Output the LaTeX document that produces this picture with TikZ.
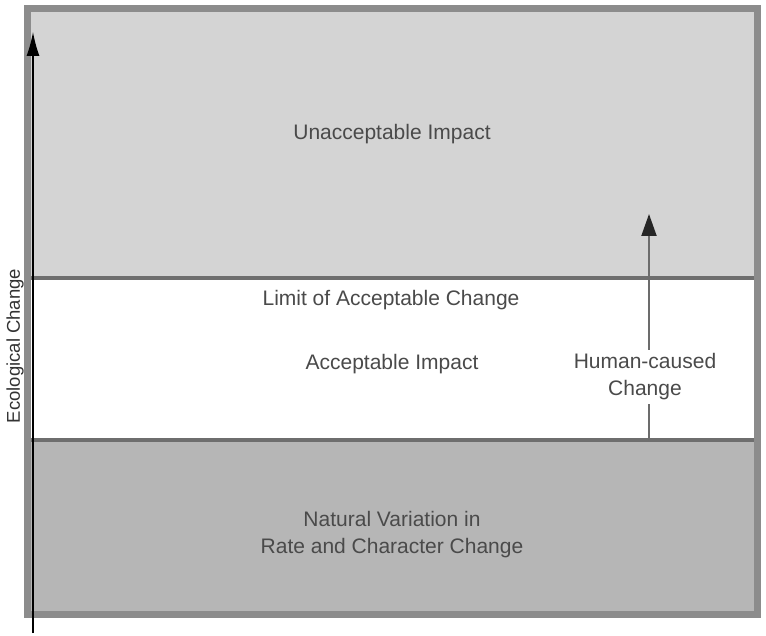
\documentclass[tikz,border=0pt]{standalone}
\usepackage{fontspec}
\setmainfont{Liberation Sans}
\usetikzlibrary{arrows.meta}
\definecolor{topband}{HTML}{D4D4D4}
\definecolor{lowband}{HTML}{B6B6B6}
\definecolor{framecol}{HTML}{8C8C8C}
\definecolor{linecol}{HTML}{6E6E6E}
\definecolor{txtcol}{HTML}{4A4A4A}
\tikzset{
  bandlabel/.style={text=txtcol, font=\fontsize{21}{27}\selectfont, align=center, inner sep=0pt},
  bandline/.style={draw=linecol, line width=4.5pt},
  axisarrow/.style={draw=black, line width=1.3pt, -{Latex[length=24pt,width=13pt]}},
  humanline/.style={draw=gray!85!black, line width=2pt},
}
\begin{document}
\begin{tikzpicture}[x=1pt,y=-1pt]
\useasboundingbox (0,0) rectangle (766,636);
% bands
\fill[topband] (27,9) rectangle (757,278);
\fill[white] (27,278) rectangle (757,440);
\fill[lowband] (27,440) rectangle (757,614);
\draw[bandline] (27,278) -- (757,278);
\draw[bandline] (27,440) -- (757,440);
\draw[draw=framecol, line width=7pt] (27,9) rectangle (757,614);
% labels
\node[bandlabel] (unacc) at (392,134) {Unacceptable Impact};
\node[bandlabel] (limit) at (391,300) {Limit of Acceptable Change};
\node[bandlabel] (acc) at (392,364) {Acceptable Impact};
\node[bandlabel, inner ysep=4pt] (human) at (645,377) {Human-caused\\Change};
\node[bandlabel] (natural) at (392,535) {Natural Variation in\\Rate and Character Change};
\node[text=black!80, font=\fontsize{18.5}{22}\selectfont, rotate=90, inner sep=0pt] (eco) at (15,346) {Ecological Change};
% axis arrow
\coordinate (axb) at (33,633);
\coordinate (axt) at (33,32);
\draw[axisarrow] (axb) -- (axt);
% human-caused change arrow
\coordinate (hb) at (649,440);
\coordinate (ht) at (649,214);
\draw[humanline] (hb) -- (hb |- human.south);
\draw[humanline, -{Triangle[length=22pt,width=15pt,fill=black!85,color=black!85]}] (ht |- human.north) -- (ht);
\end{tikzpicture}
\end{document}
